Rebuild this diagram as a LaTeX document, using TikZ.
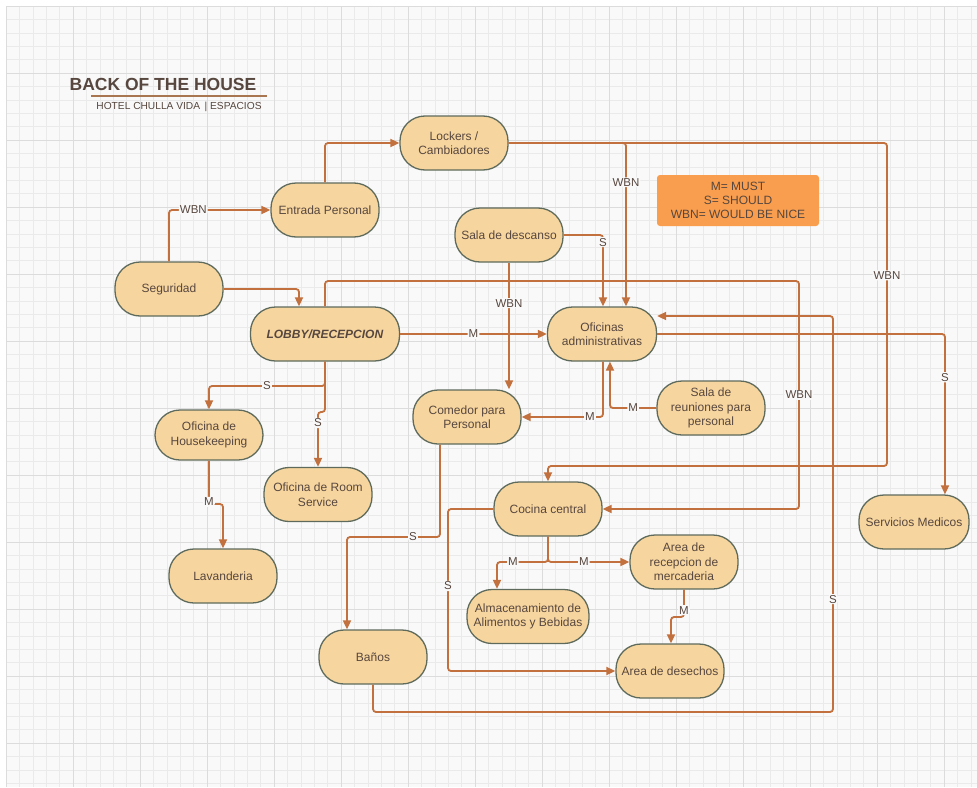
\documentclass[tikz,border=0pt]{standalone}
\usepackage{fontspec}
\setmainfont{Liberation Sans}
\usetikzlibrary{arrows.meta}

\definecolor{paper}{HTML}{F9F9F9}
\definecolor{gridminor}{HTML}{EAEAEA}
\definecolor{gridmajor}{HTML}{DCDCDC}
\definecolor{boxfill}{HTML}{F7D59E}
\definecolor{boxline}{HTML}{5E6A5C}
\definecolor{ink}{HTML}{57473F}
\definecolor{edgecol}{HTML}{C2703D}
\definecolor{keyfill}{HTML}{F99E4E}
\definecolor{rulecol}{HTML}{A97652}

\tikzset{
  area/.style={draw=boxline, line width=1.3pt, fill=boxfill, rounded corners=25pt,
    minimum width=108pt, minimum height=54pt, inner sep=0pt, align=center,
    text=ink, font=\fontsize{12}{14.5}\selectfont},
  link/.style={draw=edgecol, line width=1.8pt, rounded corners=3pt,
    -{Triangle[length=9pt,width=8pt]}},
  tag/.style={fill=paper, text=ink, font=\fontsize{11.5}{12}\selectfont, inner sep=1pt},
}

\begin{document}
\begin{tikzpicture}[x=1pt,y=-1pt]
\useasboundingbox (0,0) rectangle (977,787);

% squared paper
\fill[white] (0,0) rectangle (977,787);
\fill[paper] (6,6) rectangle (977,787);
\foreach \i in {0,...,72} \draw[gridminor, line width=0.6pt] ({6+13.4*\i},6) -- ({6+13.4*\i},787);
\foreach \j in {0,...,58} \draw[gridminor, line width=0.6pt] (6,{6+13.4*\j}) -- (977,{6+13.4*\j});
\foreach \i in {0,5,...,70} \draw[gridmajor, line width=0.7pt] ({6+13.4*\i},6) -- ({6+13.4*\i},787);
\foreach \j in {0,5,...,55} \draw[gridmajor, line width=0.7pt] (6,{6+13.4*\j}) -- (977,{6+13.4*\j});

% heading
\node[text=ink, font=\fontsize{17.5}{20}\selectfont\bfseries] (title) at (163,84) {BACK OF THE HOUSE};
\draw[rulecol, line width=1.8pt] (91,96) -- (267,96);
\node[text=ink, font=\fontsize{10.2}{12}\selectfont] (subtitle) at (179,106.5) {HOTEL CHULLA VIDA \,| ESPACIOS};

% key
\node[fill=keyfill, rounded corners=3pt, minimum width=162pt, minimum height=51pt,
  inner sep=0pt, align=center, text=ink, font=\fontsize{12}{14}\selectfont]
  (key) at (738,200.5) {M= MUST\\S= SHOULD\\WBN= WOULD BE NICE};

% spaces
\node[area] (lock)  at (454,143)   {Lockers /\\Cambiadores};
\node[area] (entr)  at (325,210)   {Entrada Personal};
\node[area] (segu)  at (169,289)   {Seguridad};
\node[area] (desc)  at (509,235)   {Sala de descanso};
\node[area, minimum width=149pt] (lobby) at (325,334) {\textbf{\textit{LOBBY/RECEPCION}}};
\node[area, minimum width=109pt] (ofic)  at (602,334) {Oficinas\\administrativas};
\node[area] (come)  at (467,417)   {Comedor para\\Personal};
\node[area] (reun)  at (711,408)   {Sala de\\reuniones para\\personal};
\node[area, minimum height=50pt] (hous) at (209,435) {Oficina de\\Housekeeping};
\node[area] (room)  at (318,494.5) {Oficina de Room\\Service};
\node[area] (lava)  at (223,576)   {Lavanderia};
\node[area] (coci)  at (548,509)   {Cocina central};
\node[area] (merc)  at (684,562)   {Area de\\recepcion de\\mercaderia};
\node[area, minimum width=122pt] (alma) at (528,616.5) {Almacenamiento de\\Alimentos y Bebidas};
\node[area] (banos) at (373,657)   {Baños};
\node[area] (dese)  at (670,671)   {Area de desechos};
\node[area, minimum width=110pt] (medi) at (914,522) {Servicios Medicos};

% connections
\draw[link] (entr.north) -- (325,143) -- (lock.west);
\draw[link] (segu.north) -- (169,210) -- node[tag,pos=0.24] {WBN} (entr.west);
\draw[link] (segu.east) -- (299,289) -- ([xshift=-26pt]lobby.north);
\draw[link] (lobby.north) -- (325,281) -- (799,281) -- node[tag,pos=0.5] {WBN} (799,509) -- (coci.east);
\draw[link] (lock.east) -- (626,143) -- node[tag,pos=0.24] {WBN} ([xshift=24pt]ofic.north);
\draw[link] (lock.east) -- (887,143) -- node[tag,pos=0.41] {WBN} (887,466) -- (548,466) -- (coci.north);
\draw[link] (desc.east) -- (603,235) -- node[tag,pos=0.1] {S} ([xshift=1pt]ofic.north);
\draw[link] (desc.south) -- node[tag,pos=0.32] {WBN} ([xshift=42pt]come.north);
\draw[link] (lobby.east) -- node[tag,pos=0.5] {M} (ofic.west);
\draw[link] (lobby.south) -- (325,386) -- node[tag,pos=0.5] {S} (209,386) -- (hous.north);
\draw[link] (lobby.south) -- (325,412) -- (318,412) -- node[tag,pos=0.2] {S} (room.north);
\draw[link] ([xshift=1pt]ofic.south) -- (603,417) -- node[tag,pos=0.16] {M} (come.east);
\draw[link] (reun.west) -- node[tag,pos=0.5] {M} (610,408) -- ([xshift=8pt]ofic.south);
\draw[link] (ofic.east) -- (945,334) -- node[tag,pos=0.27] {S} ([xshift=31pt]medi.north);
\draw[link] (banos.south) -- (373,712) -- (833,712) -- node[tag,pos=0.285] {S} (833,316) -- ([yshift=18pt]ofic.east);
\draw[link] ([xshift=-27pt]come.south) -- (440,537) -- node[tag,pos=0.29] {S} (347,537) -- ([xshift=-26pt]banos.north);
\draw[link] (coci.west) -- (448,509) -- node[tag,pos=0.475] {S} (448,671) -- (dese.west);
\draw[link] (coci.south) -- (548,562) -- node[tag,pos=0.69] {M} (497,562) -- ([xshift=-31pt]alma.north);
\draw[link] (coci.south) -- (548,562) -- node[tag,pos=0.44] {M} (merc.west);
\draw[link] (merc.south) -- node[tag,pos=0.75] {M} (684,617) -- (671,617) -- ([xshift=1pt]dese.north);
\draw[link] (hous.south) -- node[tag,pos=0.95] {M} (209,504) -- (223,504) -- (lava.north);
\end{tikzpicture}
\end{document}
